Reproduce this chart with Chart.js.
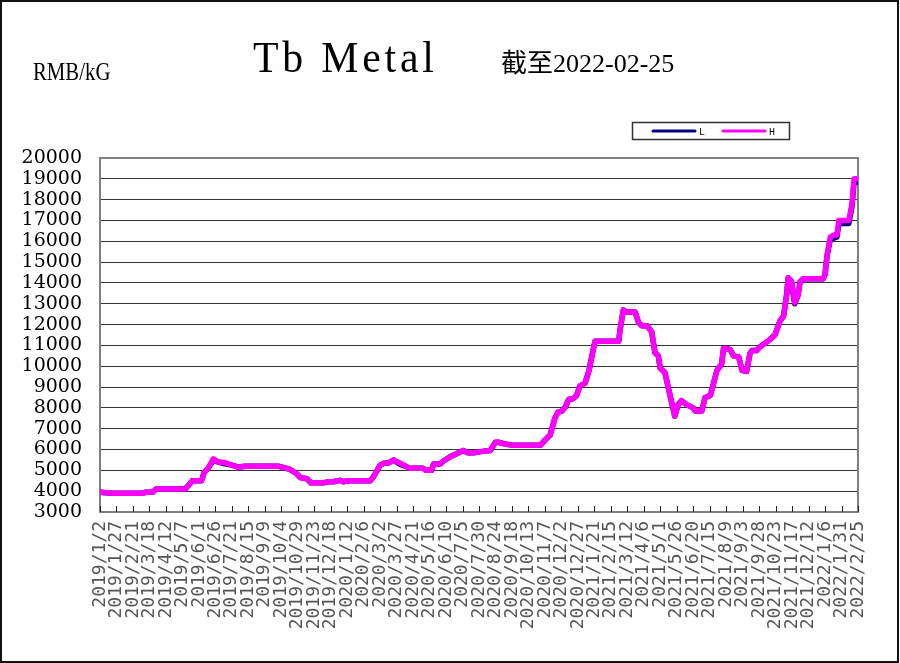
<!DOCTYPE html>
<html>
<head>
<meta charset="utf-8">
<script src="https://cdn.jsdelivr.net/npm/chart.js@4/dist/chart.umd.min.js"></script>
<style>
  body { margin: 0; background: #fff; }
</style>
</head>
<body>
<canvas id="myChart" width="900" height="663"></canvas>
<script>
/* DATA (day offsets counted from 2019/1/2) */

const startDate = Date.UTC(2019, 0, 2);
const lastDay = 1150;

const dayOffsets = [
  0, 18, 63, 70, 80, 85, 129, 135, 140, 154, 158, 164, 172, 179, 188, 200, 210, 220, 270, 283,
  288, 298, 304, 314, 320, 339, 346, 354, 364, 369, 377, 410, 415, 425, 431, 438, 445, 455, 465, 470,
  490, 495, 503, 506, 516, 521, 531, 541, 551, 558, 569, 577, 592, 600, 604, 617, 627, 668, 675, 683,
  690, 695, 701, 706, 711, 718, 723, 728, 736, 742, 746, 751, 787, 789, 794, 799, 812, 817, 822, 830,
  837, 842, 847, 850, 857, 862, 867, 872, 877, 882, 890, 900, 903, 913, 918, 926, 931, 936, 943, 946,
  951, 956, 961, 969, 974, 981, 986, 989, 996, 1002, 1009, 1017, 1024, 1032, 1037, 1042, 1044, 1049, 1054, 1059,
  1062, 1067, 1097, 1100, 1103, 1108, 1113, 1118, 1121, 1136, 1141, 1144, 1150
];

const highValues = [
  3950, 3900, 3900, 3950, 3950, 4100, 4100, 4300, 4500, 4500, 4900, 5100, 5550, 5400, 5380, 5250, 5150, 5200, 5200, 5100,
  5050, 4850, 4650, 4600, 4400, 4400, 4450, 4450, 4520, 4450, 4500, 4500, 4700, 5250, 5350, 5350, 5500, 5350, 5180, 5100,
  5100, 5000, 5000, 5300, 5300, 5450, 5650, 5800, 5950, 5850, 5850, 5900, 5950, 6350, 6350, 6250, 6200, 6200, 6450, 6700,
  7500, 7800, 7850, 8050, 8400, 8450, 8600, 9050, 9200, 9800, 10450, 11200, 11200, 11750, 12700, 12600, 12600, 12100, 11950, 11950,
  11650, 10650, 10500, 9900, 9700, 9000, 8300, 7600, 8150, 8350, 8150, 8000, 7850, 7850, 8500, 8600, 9200, 9800, 10100, 10850,
  10850, 10800, 10500, 10450, 9800, 9750, 10600, 10750, 10750, 10950, 11100, 11300, 11500, 12200, 12400, 13500, 14250, 14100, 13050, 13400,
  14050, 14200, 14200, 14400, 15300, 16200, 16300, 16300, 17000, 17000, 17800, 19000, 19000
];

const lowValues = [
  3950, 3900, 3900, 3950, 3950, 4100, 4100, 4300, 4500, 4500, 4900, 5100, 5500, 5400, 5330, 5250, 5150, 5200, 5200, 5100,
  5050, 4850, 4650, 4600, 4400, 4400, 4450, 4450, 4520, 4450, 4500, 4500, 4700, 5250, 5350, 5350, 5500, 5300, 5180, 5100,
  5100, 5000, 5000, 5300, 5300, 5450, 5650, 5800, 5950, 5850, 5850, 5900, 5950, 6350, 6350, 6250, 6200, 6200, 6450, 6700,
  7500, 7800, 7850, 8050, 8400, 8450, 8600, 9050, 9200, 9800, 10450, 11200, 11200, 11750, 12700, 12600, 12600, 12100, 11950, 11950,
  11650, 10650, 10500, 9900, 9700, 9000, 8300, 7600, 8150, 8350, 8150, 8000, 7850, 7850, 8500, 8600, 9200, 9800, 10100, 10850,
  10850, 10800, 10500, 10450, 9800, 9750, 10600, 10750, 10750, 10950, 11100, 11300, 11500, 12200, 12400, 13500, 14250, 14000, 13000, 13400,
  14050, 14200, 14200, 14400, 15300, 16100, 16150, 16200, 16850, 16850, 17700, 18850, 18850
];

const yTicks = { min: 3000, max: 20000, step: 1000 };
const xTickStep = 25;

/* HELPERS */

function dayToLabel(day) {
  let d = new Date(startDate + day * 86400000);
  return d.getUTCFullYear() + '/' + (d.getUTCMonth() + 1) + '/' + d.getUTCDate();
}

function toPoints(values) {
  return dayOffsets.map((day, i) => ({ x: day, y: values[i] }));
}

/* PLUGIN FOR FRAME, TITLES, LEGEND AND INWARD X TICKS */

const decorations = {
  id: 'decorations',
  beforeDraw(chart) {
    const ctx = chart.ctx;
    ctx.save();
    ctx.fillStyle = '#fff';
    ctx.fillRect(0, 0, chart.width, chart.height);
    ctx.restore();
  },
  beforeDatasetsDraw(chart) {
    const ctx = chart.ctx;
    const a = chart.chartArea;
    ctx.save();
    ctx.strokeStyle = '#808080';
    ctx.lineWidth = 2;
    ctx.strokeRect(a.left, a.top, a.right - a.left, a.bottom - a.top);
    // small ticks going up from the x axis
    const xs = chart.scales.x;
    ctx.strokeStyle = '#222';
    ctx.lineWidth = 1;
    xs.ticks.forEach(t => {
      let px = Math.round(xs.getPixelForValue(t.value)) + 0.5;
      ctx.beginPath();
      ctx.moveTo(px, a.bottom);
      ctx.lineTo(px, a.bottom - 6);
      ctx.stroke();
    });
    ctx.restore();
  },
  afterDraw(chart) {
    const ctx = chart.ctx;
    ctx.save();

    // outer frame
    ctx.strokeStyle = '#111';
    ctx.lineWidth = 2;
    ctx.strokeRect(1, 1, chart.width - 3, chart.height - 2);

    // texts
    ctx.fillStyle = '#000';
    ctx.textBaseline = 'alphabetic';

    ctx.save();
    ctx.translate(33, 80);
    ctx.scale(0.8, 1);
    ctx.font = '26px "Liberation Serif"';
    ctx.fillText('RMB/kG', 0, 0);
    ctx.restore();

    ctx.save();
    ctx.translate(253, 72);
    ctx.scale(0.95, 1);
    ctx.font = '44px "Liberation Serif"';
    ctx.letterSpacing = '4px';
    ctx.fillText('Tb Metal', 0, 0);
    ctx.restore();

    ctx.font = '26px "Liberation Serif", "Noto Sans CJK SC"';
    ctx.fillText('截至2022-02-25', 501, 72);

    // legend box
    ctx.strokeStyle = '#333';
    ctx.lineWidth = 1.5;
    ctx.strokeRect(632.5, 122.5, 157, 17);
    const items = [
      { ds: chart.data.datasets[1], x: 653 },
      { ds: chart.data.datasets[0], x: 723 }
    ];
    ctx.font = '10px "Liberation Mono"';
    items.forEach(it => {
      ctx.strokeStyle = it.ds.borderColor;
      ctx.lineWidth = 3;
      ctx.lineCap = 'round';
      ctx.beginPath();
      ctx.moveTo(it.x, 131);
      ctx.lineTo(it.x + 42, 131);
      ctx.stroke();
      ctx.fillStyle = '#000';
      ctx.fillText(it.ds.label, it.x + 46, 135);
    });
    ctx.restore();
  }
};

/* CREATE CHART WITH CHART.JS */

function printChart() {
  var ctx = document.getElementById('myChart').getContext('2d');
  var myChart = new Chart(ctx, {
    type: 'line',
    data: {
      datasets: [{
        label: 'H',
        data: toPoints(highValues),
        borderColor: '#ff00ff',
        borderWidth: 5.5,
        order: 0
      }, {
        label: 'L',
        data: toPoints(lowValues),
        borderColor: '#000080',
        borderWidth: 5.5,
        order: 1
      }]
    },
    options: {
      responsive: false,
      animation: false,
      devicePixelRatio: 1,
      layout: { padding: { top: 158, left: 18, right: 42, bottom: 8 } },
      elements: {
        point: { radius: 0 },
        line: { tension: 0, borderJoinStyle: 'round', borderCapStyle: 'round' }
      },
      plugins: {
        legend: { display: false },
        title: { display: false },
        tooltip: { enabled: false }
      },
      scales: {
        x: {
          type: 'linear',
          min: 0,
          max: lastDay,
          afterFit(scale) { scale.height = 663 - 8 - 512; },
          grid: { display: true, drawOnChartArea: false, drawTicks: false },
          border: { display: true, color: '#222', width: 1.5 },
          ticks: {
            stepSize: xTickStep,
            autoSkip: false,
            minRotation: 90,
            maxRotation: 90,
            padding: 9,
            color: '#555',
            font: { family: 'DejaVu Sans Mono', size: 18 },
            callback: value => dayToLabel(value)
          }
        },
        y: {
          min: yTicks.min,
          max: yTicks.max,
          afterFit(scale) { scale.width = 82; },
          grid: { color: '#333', lineWidth: 1, drawTicks: false },
          border: { display: false },
          ticks: {
            stepSize: yTicks.step,
            autoSkip: false,
            padding: 18,
            color: '#000',
            font: { family: 'DejaVu Serif', size: 19, lineHeight: 1 },
            callback: value => String(value)
          }
        }
      }
    },
    plugins: [decorations]
  });
}

printChart();
</script>
</body>
</html>
